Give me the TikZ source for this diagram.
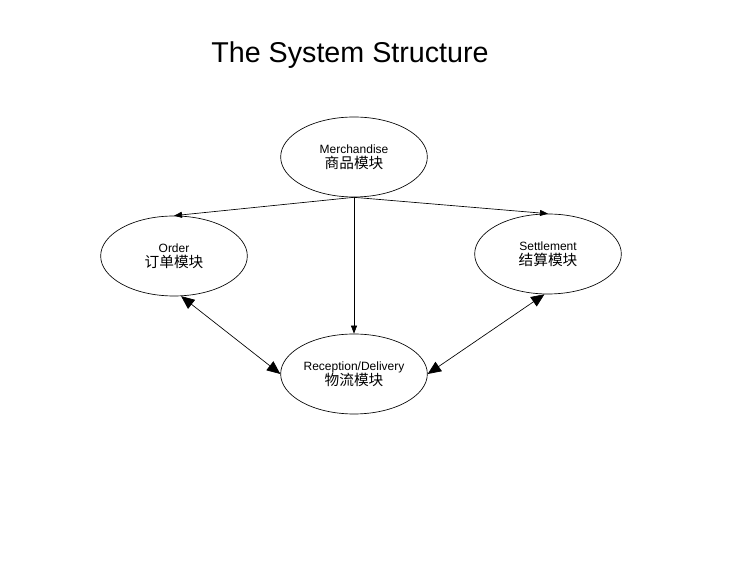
\documentclass[tikz,border=0pt]{standalone}
\usepackage{fontspec}
\setmainfont{Liberation Sans}
\newfontfamily\cjk{Noto Sans CJK SC}
\usetikzlibrary{arrows.meta,shapes.geometric}

\begin{document}
\begin{tikzpicture}[line cap=round,line join=round,x=0.75pt,y=0.75pt,
  module/.style={draw,ellipse,inner sep=0pt,minimum width=110pt,minimum height=60pt,
    line width=0.5pt,align=center,font=\fontsize{9}{11.5}\selectfont},
  flow/.style={line width=0.5pt,-{Triangle[length=6pt,width=4.5pt]}},
  link/.style={line width=0.5pt,{Triangle[length=10pt,width=8.5pt]}-{Triangle[length=10pt,width=8.5pt]}}]
\useasboundingbox (0,0) rectangle (756,567);
\node (title) at (350,512) {\fontsize{21.5}{26}\selectfont The System Structure};
\node[module] (merch) at (354,410) {Merchandise\\{\cjk\fontsize{11}{13}\selectfont 商品模块}};
\node[module] (order) at (174,311) {Order\\{\cjk\fontsize{11}{13}\selectfont 订单模块}};
\node[module] (settle) at (548,313) {Settlement\\{\cjk\fontsize{11}{13}\selectfont 结算模块}};
\node[module] (recep) at (354,193) {Reception/Delivery\\{\cjk\fontsize{11}{13}\selectfont 物流模块}};
\draw[flow] (merch.south) -- (order.north);
\draw[flow] (merch.south) -- (settle.north);
\draw[flow] (merch.south) -- (recep.north);
\draw[link] (order.-80) -- (recep.west);
\draw[link] (settle.-95) -- (recep.east);
\end{tikzpicture}
\end{document}
